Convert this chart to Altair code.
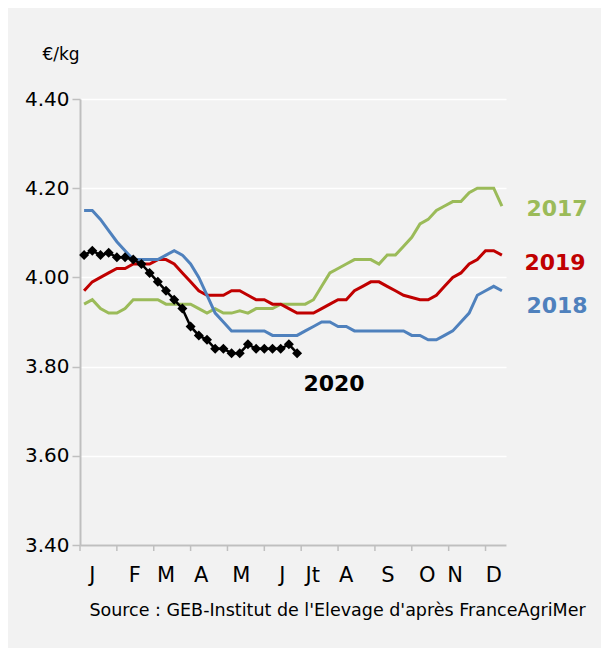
import altair as alt
import pandas as pd

weeks = list(range(1, 53))
v2017 = [3.94, 3.95, 3.93, 3.92, 3.92, 3.93, 3.95, 3.95, 3.95, 3.95,
         3.94, 3.94, 3.94, 3.94, 3.93, 3.92, 3.93, 3.92, 3.92, 3.925,
         3.92, 3.93, 3.93, 3.93, 3.94, 3.94, 3.94, 3.94, 3.95, 3.98,
         4.01, 4.02, 4.03, 4.04, 4.04, 4.04, 4.03, 4.05, 4.05, 4.07,
         4.09, 4.12, 4.13, 4.15, 4.16, 4.17, 4.17, 4.19, 4.20, 4.20,
         4.20, 4.16]
v2018 = [4.15, 4.15, 4.13, 4.105, 4.08, 4.06, 4.04, 4.04, 4.04, 4.04,
         4.05, 4.06, 4.05, 4.03, 4.00, 3.96, 3.92, 3.90, 3.88, 3.88,
         3.88, 3.88, 3.88, 3.87, 3.87, 3.87, 3.87, 3.88, 3.89, 3.90,
         3.90, 3.89, 3.89, 3.88, 3.88, 3.88, 3.88, 3.88, 3.88, 3.88,
         3.87, 3.87, 3.86, 3.86, 3.87, 3.88, 3.90, 3.92, 3.96, 3.97,
         3.98, 3.97]
v2019 = [3.97, 3.99, 4.00, 4.01, 4.02, 4.02, 4.03, 4.03, 4.03, 4.04,
         4.04, 4.03, 4.01, 3.99, 3.97, 3.96, 3.96, 3.96, 3.97, 3.97,
         3.96, 3.95, 3.95, 3.94, 3.94, 3.93, 3.92, 3.92, 3.92, 3.93,
         3.94, 3.95, 3.95, 3.97, 3.98, 3.99, 3.99, 3.98, 3.97, 3.96,
         3.955, 3.95, 3.95, 3.96, 3.98, 4.00, 4.01, 4.03, 4.04, 4.06,
         4.06, 4.05]
v2020 = [4.05, 4.06, 4.05, 4.055, 4.045, 4.045, 4.04, 4.03, 4.01, 3.99,
         3.97, 3.95, 3.93, 3.89, 3.87, 3.86, 3.84, 3.84, 3.83, 3.83,
         3.85, 3.84, 3.84, 3.84, 3.84, 3.85, 3.83]

months = ["J", "F", "M", "A", "M", "J", "Jt", "A", "S", "O", "N", "D"]
month_weeks = [2.0, 7.2, 11.0, 15.3, 20.2, 25.2, 28.9, 33.0, 38.1, 42.9, 46.3, 51.0]
x_ticks = [0.5 + 4.5 * k for k in range(12)]
y_ticks = [3.40, 3.60, 3.80, 4.00, 4.20, 4.40]

years = ["2017", "2018", "2019", "2020"]
colors = ["#9BBB59", "#4F81BD", "#C00000", "#000000"]

rows = []
for yr, vals in [("2017", v2017), ("2019", v2019), ("2018", v2018)]:
    for w, v in zip(weeks, vals):
        rows.append({"year": yr, "week": w, "value": v})
df_lines = pd.DataFrame(rows)
df_2020 = pd.DataFrame({"year": "2020", "week": weeks[:len(v2020)], "value": v2020})
df_months = pd.DataFrame({"m": months, "pos": month_weeks})
df_ticks = pd.DataFrame({"t": x_ticks})

FONT = "DejaVu Sans"
GRAY = "#BFBFBF"

xscale = alt.Scale(domain=[0.5, 52.5], nice=False, zero=False)
yscale = alt.Scale(domain=[3.4, 4.4], nice=False, zero=False)
cscale = alt.Scale(domain=years, range=colors)

xaxis = alt.Axis(labels=False, ticks=False, title=None, grid=False,
                 domainColor=GRAY, domainWidth=2)
yaxis = alt.Axis(values=y_ticks, format=".2f", title=None, grid=True, labelOverlap=False,
                 gridColor="#FFFFFF", gridWidth=1.5, domainColor=GRAY, domainWidth=2,
                 tickColor=GRAY, tickWidth=1.5, tickSize=8, labelFontSize=20,
                 labelFont=FONT, labelColor="#000000", labelPadding=3)

lines = alt.Chart(df_lines).mark_line(strokeWidth=3).encode(
    x=alt.X("week:Q", scale=xscale, axis=xaxis),
    y=alt.Y("value:Q", scale=yscale, axis=yaxis),
    color=alt.Color("year:N", scale=cscale, legend=None),
    detail="year:N",
)

xticks = alt.Chart(df_ticks).mark_rule(color=GRAY, strokeWidth=1.5).encode(
    x=alt.X("t:Q", scale=xscale),
    y=alt.value(446),
    y2=alt.value(452),
)

line20 = alt.Chart(df_2020).mark_line(strokeWidth=2.5, color="#000000").encode(
    x=alt.X("week:Q", scale=xscale),
    y=alt.Y("value:Q", scale=yscale),
)
pts20 = alt.Chart(df_2020).mark_point(shape="diamond", filled=True, size=100,
                                      color="#000000", opacity=1).encode(
    x=alt.X("week:Q", scale=xscale),
    y=alt.Y("value:Q", scale=yscale),
)

month_text = alt.Chart(df_months).mark_text(fontSize=21, font=FONT, color="#000000",
                                           baseline="middle", align="center").encode(
    x=alt.X("pos:Q", scale=xscale),
    y=alt.value(477),
    text="m:N",
)

lab_df = pd.DataFrame({"t": ["2017", "2019", "2018", "2020"]})
def label(txt, col, px, py):
    return alt.Chart(lab_df).transform_filter(alt.datum.t == txt).mark_text(
        fontSize=22, fontWeight="bold", font=FONT, color=col,
        align="center", baseline="middle").encode(
        x=alt.value(px), y=alt.value(py), text="t:N")

l17 = label("2017", "#9BBB59", 477, 110)
l19 = label("2019", "#C00000", 475, 164)
l18 = label("2018", "#4F81BD", 477, 207)
l20 = label("2020", "#000000", 254, 285)

src_df = pd.DataFrame({"t": ["Source : GEB-Institut de l'Elevage d'après FranceAgriMer"],
                       "u": ["€/kg"]})
src = alt.Chart(src_df).mark_text(fontSize=17.5, font=FONT, color="#000000",
                                  align="center", baseline="middle").encode(
    x=alt.value(257.5), y=alt.value(512), text="t:N")
unit = alt.Chart(src_df).mark_text(fontSize=17, font=FONT, color="#000000",
                                   align="center", baseline="middle").encode(
    x=alt.value(-19), y=alt.value(-44), text="u:N")

chart = alt.layer(lines, xticks, line20, pts20, month_text, l17, l19, l18, l20, src, unit).properties(
    width=426, height=446,
    autosize=alt.AutoSizeParams(type="none"),
    padding={"left": 72, "top": 91, "right": 95, "bottom": 103},
).configure(background="#F2F2F2").configure_view(stroke=None)

chart.save("out.html", embed_options={"renderer": "svg", "actions": False})
